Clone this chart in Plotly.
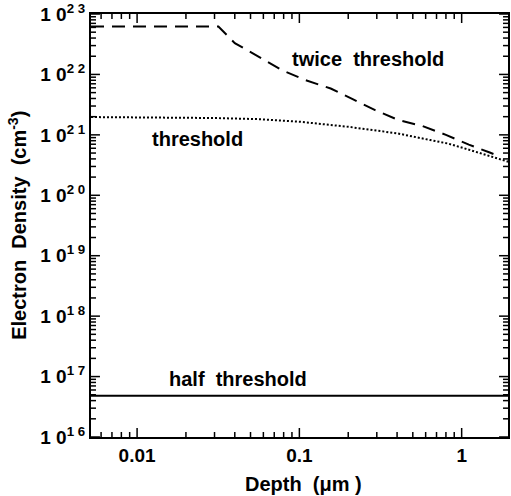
import numpy as np
import plotly.graph_objects as go

# Depth (um) and electron density (cm^-3)
twice_x = [0.0052, 0.0317, 0.040, 0.057, 0.078, 0.107, 0.156, 0.213, 0.293, 0.407, 0.574, 0.80, 1.107, 1.49, 1.61]
twice_y = [6.2e22, 6.2e22, 3.3e22, 1.94e22, 1.18e22, 8.2e21, 5.85e21, 3.9e21, 2.57e21, 1.76e21, 1.4e21, 1.0e21, 6.9e20, 5.1e20, 4.7e20]

thr_x = [0.0052, 0.01, 0.03, 0.056, 0.1, 0.2, 0.35, 0.40, 0.64, 0.82, 1.035, 1.31, 1.66, 1.93]
thr_y = [1.97e21, 1.95e21, 1.9e21, 1.82e21, 1.65e21, 1.36e21, 1.12e21, 1.06e21, 8.2e20, 7.2e20, 6.0e20, 4.9e20, 4.1e20, 3.6e20]

half_x = [0.0052, 1.93]
half_y = [4.8e16, 4.8e16]

y_tickvals = [1e16, 1e17, 1e18, 1e19, 1e20, 1e21, 1e22, 1e23]
y_ticktext = ["1 0<sup>1 6</sup>", "1 0<sup>1 7</sup>", "1 0<sup>1 8</sup>", "1 0<sup>1 9</sup>",
              "1 0<sup>2 0</sup>", "1 0<sup>2 1</sup>", "1 0<sup>2 2</sup>", "1 0<sup>2 3</sup>"]
x_tickvals = [0.01, 0.1, 1]
x_ticktext = ["0.01", "0.1", "1"]

X_MIN, X_MAX = 0.0052, 1.93
Y_MIN, Y_MAX = 1e16, 1e23

W, H = 511, 496
MARGIN = dict(l=91, r=1, t=14, b=59)
FONT = "Liberation Sans, Arial, Helvetica, sans-serif"

fig = go.Figure()
fig.add_trace(go.Scatter(x=twice_x, y=twice_y, mode="lines",
                         line=dict(color="black", width=2, dash="13px,8px")))
fig.add_trace(go.Scatter(x=thr_x, y=thr_y, mode="lines",
                         line=dict(color="black", width=2, dash="2px,2px")))
fig.add_trace(go.Scatter(x=half_x, y=half_y, mode="lines",
                         line=dict(color="black", width=2)))

# inward tick marks drawn as line segments in data space (lengths converted from pixels)
px_per_dec_x = (W - MARGIN["l"] - MARGIN["r"]) / (np.log10(X_MAX) - np.log10(X_MIN))
px_per_dec_y = (H - MARGIN["t"] - MARGIN["b"]) / (np.log10(Y_MAX) - np.log10(Y_MIN))


def decade_minors(lo, hi):
    out = []
    for e in range(int(np.floor(np.log10(lo))), int(np.ceil(np.log10(hi))) + 1):
        for m in range(2, 10):
            v = m * 10.0 ** e
            if lo < v < hi:
                out.append(v)
    return out


tx, ty = [], []
for vals, L in (([v for v in x_tickvals if X_MIN <= v <= X_MAX], 9), (decade_minors(X_MIN, X_MAX), 5)):
    fy = 10 ** (L / px_per_dec_y)
    for v in vals:
        tx += [v, v, None, v, v, None]
        ty += [Y_MIN, Y_MIN * fy, None, Y_MAX, Y_MAX / fy, None]
for vals, L in ((y_tickvals, 9), (decade_minors(Y_MIN, Y_MAX), 5)):
    fx = 10 ** (L / px_per_dec_x)
    for v in vals:
        tx += [X_MIN, X_MIN * fx, None, X_MAX, X_MAX / fx, None]
        ty += [v, v, None, v, v, None]
fig.add_trace(go.Scatter(x=tx, y=ty, mode="lines", line=dict(color="black", width=1.5),
                         hoverinfo="skip", connectgaps=False))

common = dict(type="log", showgrid=False, zeroline=False, showline=True, linecolor="black", linewidth=2,
              mirror=True, ticks="", tickfont=dict(family=FONT, size=19, color="black", weight="bold"),
              tickmode="array")
fig.update_xaxes(range=[np.log10(X_MIN), np.log10(X_MAX)], tickvals=x_tickvals, ticktext=x_ticktext, **common)
fig.update_yaxes(range=[np.log10(Y_MIN), np.log10(Y_MAX)], tickvals=y_tickvals, ticktext=y_ticktext, **common)

ann_font = dict(family=FONT, size=20, color="black", weight="bold")
fig.add_annotation(x=np.log10(0.264), y=np.log10(1.8e22), xref="x", yref="y", text="twice  threshold",
                   showarrow=False, font=ann_font)
fig.add_annotation(x=np.log10(0.0236), y=np.log10(8.4e20), xref="x", yref="y", text="threshold",
                   showarrow=False, font=ann_font)
fig.add_annotation(x=np.log10(0.042), y=np.log10(9.2e16), xref="x", yref="y", text="half  threshold",
                   showarrow=False, font=ann_font)

title_font = dict(family=FONT, size=20, color="black", weight="bold")
fig.add_annotation(x=-0.1766, y=0.5, xref="paper", yref="paper", text="Electron  Density  (cm<sup>-3</sup>)",
                   textangle=-90, showarrow=False, font=title_font, xanchor="center", yanchor="middle")
fig.add_annotation(x=0.51, y=-0.111, xref="paper", yref="paper", text="Depth  (μm )",
                   showarrow=False, font=title_font, xanchor="center", yanchor="middle")

fig.update_layout(
    width=W, height=H, showlegend=False,
    margin=MARGIN,
    paper_bgcolor="white", plot_bgcolor="white",
)

fig.write_html("out.html")
